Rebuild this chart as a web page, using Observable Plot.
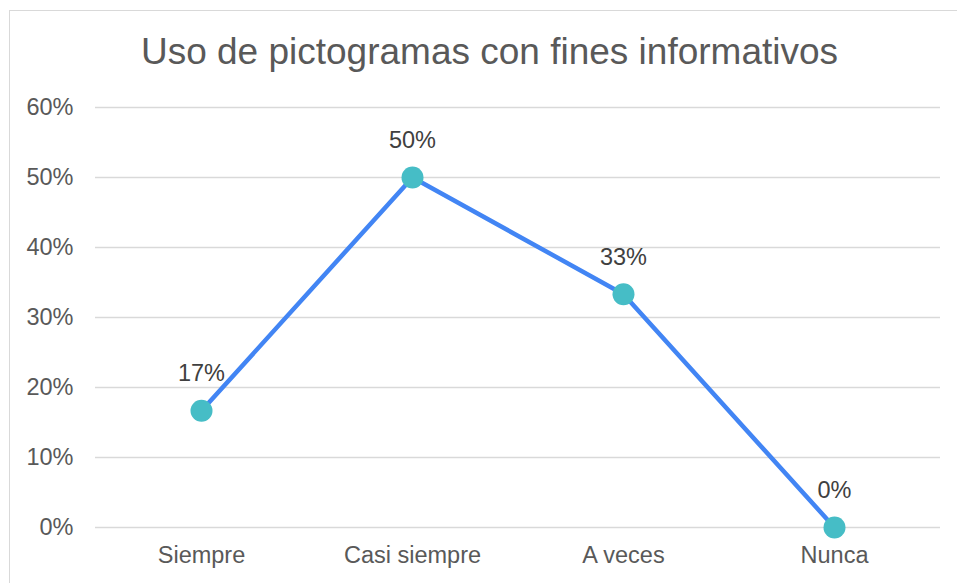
<!DOCTYPE html>
<html>
<head>
<meta charset="utf-8">
<script src="https://cdn.jsdelivr.net/npm/d3@7"></script>
<script src="https://cdn.jsdelivr.net/npm/@observablehq/plot@0.6"></script>
<style>
  html, body { margin: 0; padding: 0; background: #fff; overflow: hidden; }
  #wrap { position: relative; width: 957px; height: 583px; overflow: hidden; font-family: "Liberation Sans", Arial, sans-serif; }
  #frame { position: absolute; left: 9px; top: 10px; width: 1100px; height: 1000px; border: 1.5px solid #d9d9d9; box-sizing: border-box; }
  #title { position: absolute; left: 0; width: 979px; top: 31px; text-align: center; font-size: 37px; line-height: 42px; color: #595959; white-space: nowrap; }
  #chart { position: absolute; left: 0; top: 0; }
  #chart svg text { font-size: 23.5px; }
</style>
</head>
<body>
<div id="wrap">
  <div id="frame"></div>
  <div id="title">Uso de pictogramas con fines informativos</div>
  <div id="chart"></div>
</div>
<script>
const categories = ["Siempre", "Casi siempre", "A veces", "Nunca"];
const values = [0.1667, 0.5, 0.3333, 0];
const valueLabels = ["17%", "50%", "33%", "0%"];
const yTicks = [0, 0.1, 0.2, 0.3, 0.4, 0.5, 0.6];

const data = categories.map((c, i) => ({cat: c, v: values[i], label: valueLabels[i]}));

const plot = Plot.plot({
  width: 957,
  height: 583,
  marginLeft: 95,
  marginRight: 17,
  marginTop: 107,
  marginBottom: 56,
  style: {fontFamily: "'Liberation Sans', Arial, sans-serif", fontSize: "23.5px", color: "#595959", background: "transparent", overflow: "visible"},
  x: {type: "point", domain: categories, padding: 0.5, label: null},
  y: {domain: [0, 0.6], label: null},
  marks: [
    Plot.gridY(yTicks, {stroke: "#d9d9d9", strokeOpacity: 1, strokeWidth: 1.5}),
    Plot.axisY(yTicks, {tickSize: 0, tickPadding: 22, tickFormat: d => Math.round(d * 100) + "%", fontSize: 23.5, fill: "#595959", label: null}),
    Plot.axisX({tickSize: 0, tickPadding: 19, fontSize: 23.5, fill: "#595959", label: null}),
    Plot.line(data, {x: "cat", y: "v", stroke: "#4285f4", strokeWidth: 4.5}),
    Plot.dot(data, {x: "cat", y: "v", r: 11, fill: "#46bdc6", stroke: null}),
    Plot.text(data, {x: "cat", y: "v", text: "label", dy: -37, fontSize: 23.5, fill: "#404040", textAnchor: "middle"})
  ]
});
document.getElementById("chart").appendChild(plot);
</script>
</body>
</html>
